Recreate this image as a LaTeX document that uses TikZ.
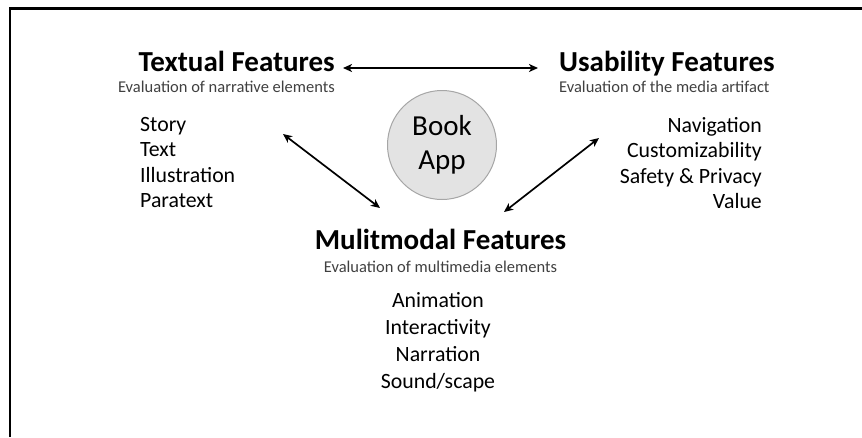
\documentclass[tikz,border=0pt]{standalone}
\usepackage{fontspec}
\setmainfont{Carlito}
\usetikzlibrary{arrows.meta}
\begin{document}
\begin{tikzpicture}[x=1pt,y=-1pt,
  heading/.style={inner sep=0pt,font=\fontsize{29}{35}\selectfont\bfseries},
  subhead/.style={inner sep=0pt,text=black!75,font=\fontsize{16.5}{20}\selectfont},
  items/.style={inner sep=0pt,font=\fontsize{21.8}{25.5}\selectfont},
  link/.style={line width=1.7pt,{Stealth[length=9pt,width=8pt,inset=2.5pt]}-{Stealth[length=9pt,width=8pt,inset=2.5pt]}}]
\useasboundingbox (0,0) rectangle (862,437);
% frame: top and left rules only
\draw[line width=2.6pt] (10,437) -- (10,8.5) -- (862,8.5);

% centre circle
\node[circle,minimum size=109pt,fill=black!11,draw=black!35,line width=1pt,
      align=center,inner sep=0pt,font=\fontsize{29}{34}\selectfont] (book) at (442,145) {Book\\App};

% textual features (right-aligned block)
\node[heading,anchor=base east] (textual) at (335,71) {Textual Features};
\node[subhead,anchor=base east] (textualsub) at (335,92) {Evaluation of narrative elements};
\node[items,anchor=north west,align=left] (textuallist) at (140,117) {Story\\Text\\Illustration\\Paratext};

% usability features (left-aligned block)
\node[heading,anchor=base west] (usab) at (559,71) {Usability Features};
\node[subhead,anchor=base west] (usabsub) at (559,92) {Evaluation of the media artifact};
\node[items,anchor=north east,align=right] (usablist) at (762,117) {Navigation\\Customizability\\Safety \& Privacy\\Value};

% multimodal features (centred block)
\node[heading,anchor=base] (multi) at (440.5,249) {Mulitmodal Features};
\node[subhead,anchor=base] (multisub) at (440.5,272) {Evaluation of multimedia elements};
\node[items,anchor=north,align=center,font=\fontsize{21.8}{27}\selectfont] (multilist) at (438,292) {Animation\\Interactivity\\Narration\\Sound/scape};

% arrow end points
\coordinate (h1) at (343,68);
\coordinate (h2) at (538,68);
\coordinate (l1) at (283,134);
\coordinate (l2) at (380,208);
\coordinate (r1) at (599,138);
\coordinate (r2) at (504,212);
\draw[link] (h1) -- (h2);
\draw[link] (l1) -- (l2);
\draw[link] (r1) -- (r2);
\end{tikzpicture}
\end{document}
